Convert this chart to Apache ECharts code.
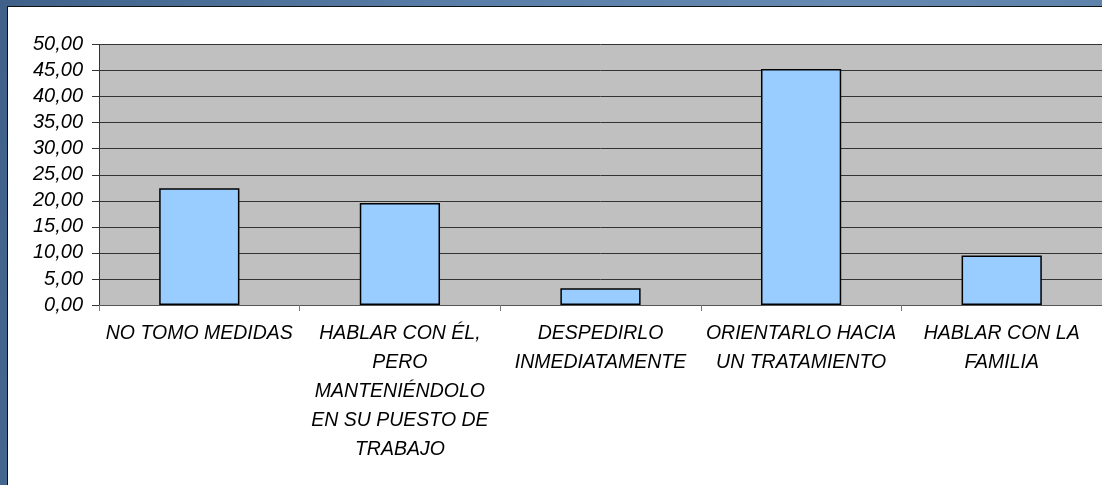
<!DOCTYPE html>
<html>
<head>
<meta charset="utf-8">
<script src="https://cdn.jsdelivr.net/npm/echarts@6/dist/echarts.min.js"></script>
<style>
  html, body { margin: 0; padding: 0; width: 1102px; height: 485px; overflow: hidden; }
  body { background: linear-gradient(100deg, #3f6189 0%, #5a7fa8 40%, #6589b1 70%, #5d82aa 100%); position: relative; }
  #panel { position: absolute; left: 7px; top: 6px; right: 0; bottom: 0; background: #fff; border-left: 1px solid #111; border-top: 1px solid #111; }
  #chart { position: absolute; left: 0; top: 0; width: 1102px; height: 485px; }
</style>
</head>
<body>
<div id="panel"></div>
<div id="chart"></div>
<script>
// categories as they are printed under the axis (line breaks kept)
const categories = [
  'NO TOMO MEDIDAS',
  'HABLAR CON ÉL,\nPERO\nMANTENIÉNDOLO\nEN SU PUESTO DE\nTRABAJO',
  'DESPEDIRLO\nINMEDIATAMENTE',
  'ORIENTARLO HACIA\nUN TRATAMIENTO',
  'HABLAR CON LA\nFAMILIA'
]
const percentages = [22.4, 19.6, 3.2, 45.3, 9.5]

const yMin = 0
const yMax = 50
const yStep = 5

const font = "'Liberation Sans', Arial, sans-serif"

const chart = echarts.init(document.getElementById('chart'), null, { renderer: 'canvas' })

chart.setOption({
  backgroundColor: 'transparent',
  animation: false,
  grid: {
    left: 99, top: 44.5, width: 1005, height: 260.5,
    show: true, backgroundColor: '#c0c0c0', borderWidth: 0
  },
  xAxis: {
    type: 'category',
    data: categories,
    axisLine: { lineStyle: { color: '#555', width: 1 } },
    axisTick: { show: true, length: 6, lineStyle: { color: '#777' } },
    axisLabel: {
      interval: 0,
      margin: 14,
      color: '#000',
      fontStyle: 'italic',
      fontFamily: font,
      fontSize: 19.5,
      lineHeight: 29
    },
    splitLine: { show: false }
  },
  yAxis: {
    type: 'value',
    min: yMin,
    max: yMax,
    interval: yStep,
    axisLine: { show: true, lineStyle: { color: '#333', width: 1 } },
    axisTick: { show: true, length: 7, lineStyle: { color: '#333' } },
    axisLabel: {
      margin: 16,
      color: '#000',
      fontStyle: 'italic',
      fontFamily: font,
      fontSize: 20,
      formatter: (v) => v.toFixed(2).replace('.', ',')
    },
    splitLine: { lineStyle: { color: '#333', width: 1 } }
  },
  series: [
    {
      type: 'bar',
      data: percentages,
      barWidth: '40%',
      itemStyle: { color: '#99ccff', borderColor: '#000', borderWidth: 1.5 }
    }
  ]
})
</script>
</body>
</html>
